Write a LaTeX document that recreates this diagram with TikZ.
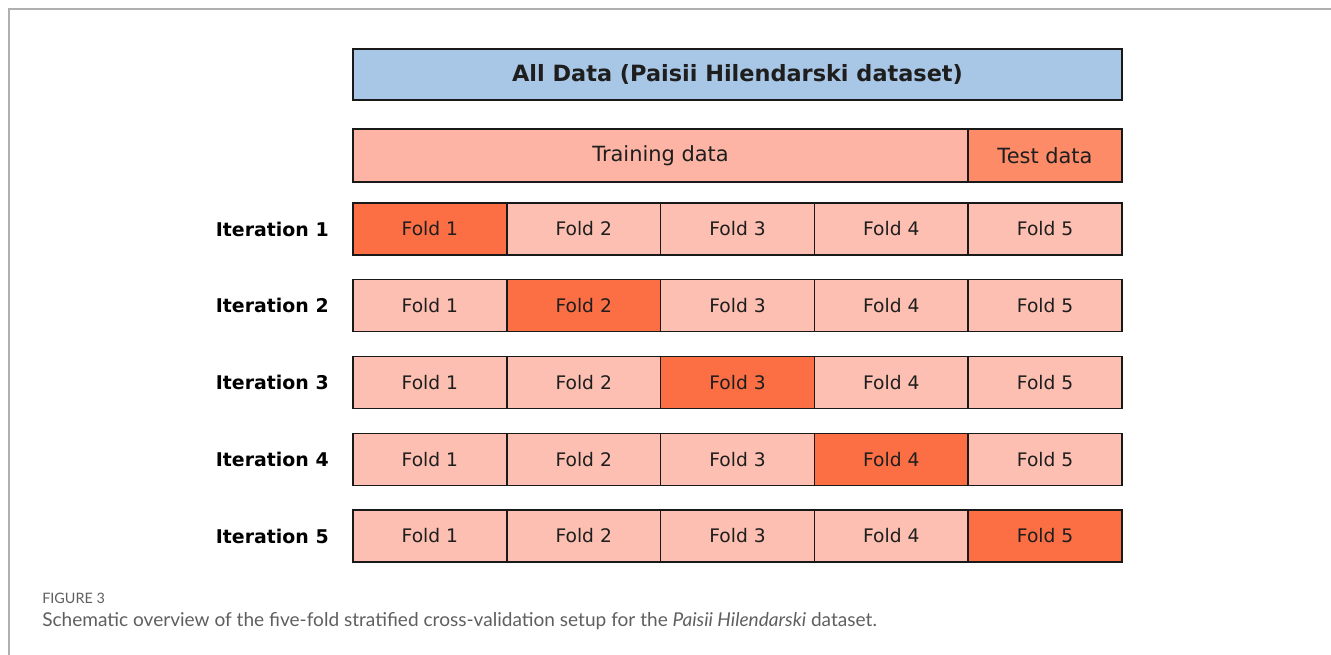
\documentclass[tikz,border=0pt]{standalone}
\usepackage{fontspec}
\setmainfont{DejaVu Sans}
\newfontfamily\capfont{Lato}
\usepackage{tikz}

\definecolor{alldata}{RGB}{168,198,229}
\definecolor{trainfill}{RGB}{253,180,164}
\definecolor{testfill}{RGB}{253,139,104}
\definecolor{foldlight}{RGB}{253,191,177}
\definecolor{foldhot}{RGB}{252,110,68}
\definecolor{framegray}{RGB}{175,175,175}
\definecolor{capgray}{RGB}{95,95,95}

\begin{document}
\begin{tikzpicture}[x=0.75pt,y=0.75pt,yscale=-1,xscale=1,
  box/.style={draw={rgb,255:red,25;green,25;blue,25},line width=1.1pt,inner sep=0pt,text={rgb,255:red,30;green,30;blue,30}},
  fold/.style={box,fill=foldlight,minimum width=115.35pt,minimum height=39pt,font=\fontsize{14}{16}\selectfont},
  hotfold/.style={fold,fill=foldhot},
  iterlabel/.style={anchor=east,inner sep=0pt,font=\fontsize{14.2}{16}\selectfont\bfseries}]
\path[use as bounding box] (0,0) rectangle (1331,655);

%Frame lines
\draw[framegray,line width=1.1pt] (9,655) -- (9,9) -- (1331,9);

%Shape: All data bar
\node[box,fill=alldata,minimum width=576.75pt,minimum height=38.25pt,font=\fontsize{16.8}{18}\selectfont\bfseries] (all) at (737.5,74.5) {All Data (Paisii Hilendarski dataset)};
%Shape: Train / test split
\node[box,fill=trainfill,minimum width=461.25pt,minimum height=39.75pt,font=\fontsize{15.7}{17}\selectfont] (train) at (660.5,155.5) {Training data};
\node[box,fill=testfill,minimum width=115.5pt,minimum height=39.75pt,font=\fontsize{15.7}{17}\selectfont] (test) at (1045,155.5) {Test data};

% Iteration 1
\node[iterlabel] (it1) at (329,229) {Iteration 1};
\node[hotfold] (f11) at (429.9,229) {Fold 1};
\node[fold] (f12) at (583.7,229) {Fold 2};
\node[fold] (f13) at (737.5,229) {Fold 3};
\node[fold] (f14) at (891.3,229) {Fold 4};
\node[fold] (f15) at (1045.1,229) {Fold 5};

% Iteration 2
\node[iterlabel] (it2) at (329,305.75) {Iteration 2};
\node[fold] (f21) at (429.9,305.75) {Fold 1};
\node[hotfold] (f22) at (583.7,305.75) {Fold 2};
\node[fold] (f23) at (737.5,305.75) {Fold 3};
\node[fold] (f24) at (891.3,305.75) {Fold 4};
\node[fold] (f25) at (1045.1,305.75) {Fold 5};

% Iteration 3
\node[iterlabel] (it3) at (329,382.5) {Iteration 3};
\node[fold] (f31) at (429.9,382.5) {Fold 1};
\node[fold] (f32) at (583.7,382.5) {Fold 2};
\node[hotfold] (f33) at (737.5,382.5) {Fold 3};
\node[fold] (f34) at (891.3,382.5) {Fold 4};
\node[fold] (f35) at (1045.1,382.5) {Fold 5};

% Iteration 4
\node[iterlabel] (it4) at (329,459.25) {Iteration 4};
\node[fold] (f41) at (429.9,459.25) {Fold 1};
\node[fold] (f42) at (583.7,459.25) {Fold 2};
\node[fold] (f43) at (737.5,459.25) {Fold 3};
\node[hotfold] (f44) at (891.3,459.25) {Fold 4};
\node[fold] (f45) at (1045.1,459.25) {Fold 5};

% Iteration 5
\node[iterlabel] (it5) at (329,536) {Iteration 5};
\node[fold] (f51) at (429.9,536) {Fold 1};
\node[fold] (f52) at (583.7,536) {Fold 2};
\node[fold] (f53) at (737.5,536) {Fold 3};
\node[fold] (f54) at (891.3,536) {Fold 4};
\node[hotfold] (f55) at (1045.1,536) {Fold 5};

% Text Node
\node[anchor=west,inner sep=0pt,text=capgray,font=\capfont\fontsize{10.8}{12}\selectfont] (figno) at (42,598) {FIGURE 3};
% Text Node
\node[anchor=west,inner sep=0pt,text=capgray,font=\capfont\fontsize{14.3}{16}\selectfont] (caption) at (42,621) {Schematic overview of the five-fold stratified cross-validation setup for the \textit{Paisii Hilendarski} dataset.};

\end{tikzpicture}
\end{document}
